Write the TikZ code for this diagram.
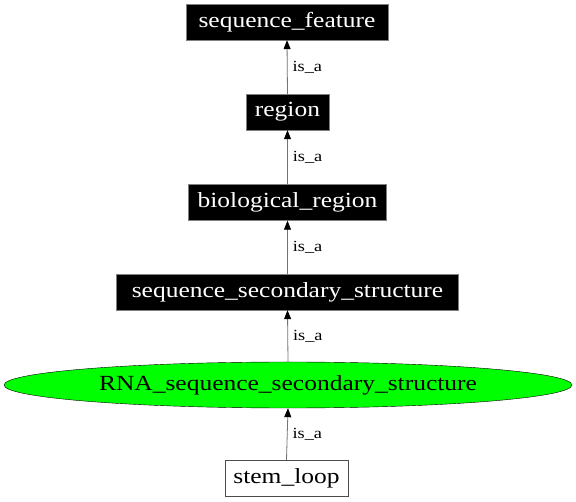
\documentclass[tikz,border=0pt]{standalone}
\usepackage{fontspec}
\setmainfont{Liberation Serif}
\newfontfamily\nodefont[FakeStretch=1.18]{Liberation Serif}
\usetikzlibrary{arrows.meta,shapes.geometric}
\begin{document}
\begin{tikzpicture}[x=1pt,y=-1pt,
  blk/.style={rectangle,fill=black,draw=gray,text=white,font=\nodefont\fontsize{21.6}{25}\selectfont,inner sep=0pt,minimum height=36pt},
  wht/.style={rectangle,fill=white,draw=black!70,text=black,font=\nodefont\fontsize{21.6}{25}\selectfont,inner sep=0pt,minimum height=36pt},
  ell/.style={ellipse,fill=green,draw=black,font=\nodefont\fontsize{21.6}{25}\selectfont,inner sep=0pt,minimum height=46pt,minimum width=568pt},
  edge/.style={draw=black!55,line width=0.8pt,-{Triangle[black,length=9pt,width=7pt]}},
  lbl/.style={font=\nodefont\fontsize{15.5}{18}\selectfont,anchor=west,inner sep=0pt}]
\useasboundingbox (0,0) rectangle (576,502);
\node[blk,minimum width=202pt] (sf) at (287,22) {sequence\_feature};
\node[blk,minimum width=83pt] (rg) at (287.5,112) {region};
\node[blk,minimum width=198pt] (br) at (287.5,202.5) {biological\_region};
\node[blk,minimum width=342pt] (ss) at (287.5,292) {sequence\_secondary\_structure};
\node[ell] (rna) at (288,385) {RNA\_sequence\_secondary\_structure};
\node[wht,minimum width=123pt] (sl) at (286.5,478) {stem\_loop};
\draw[edge] (rg.north) -- (sf.south) node[lbl,midway,xshift=5pt] {is\_a};
\draw[edge] (br.north) -- (rg.south) node[lbl,midway,xshift=5pt] {is\_a};
\draw[edge] (ss.north) -- (br.south) node[lbl,midway,xshift=5pt] {is\_a};
\draw[edge] (rna.north) -- (ss.south) node[lbl,midway,xshift=5pt] {is\_a};
\draw[edge] (sl.north) -- (rna.south) node[lbl,midway,xshift=5pt] {is\_a};
\end{tikzpicture}
\end{document}
